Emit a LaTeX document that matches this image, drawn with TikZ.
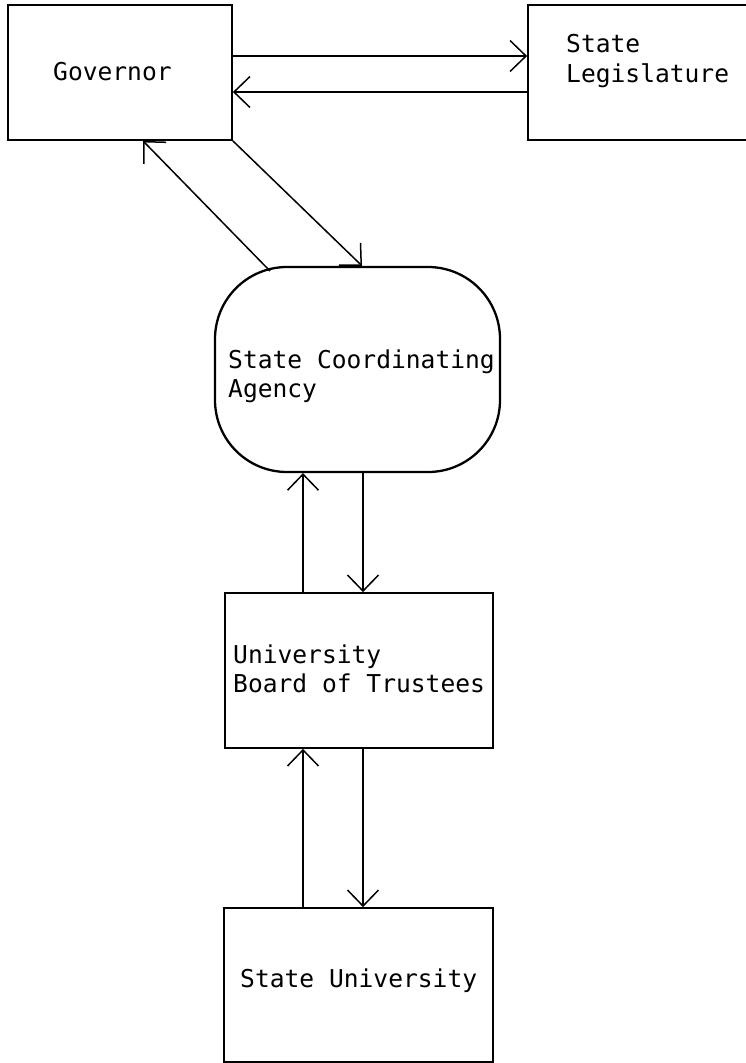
\documentclass[tikz,border=0pt]{standalone}
\usepackage{fontspec}
\setmonofont{DejaVu Sans Mono}
\usetikzlibrary{arrows.meta}
\begin{document}
\begin{tikzpicture}[x=1pt,y=-1pt,
  box/.style={draw,line width=1.8pt,inner sep=0pt},
  lbl/.style={font=\ttfamily\fontsize{24.6}{29.5}\selectfont,align=left,inner sep=0pt,anchor=north west},
  arr/.style={line width=1.5pt,-{Straight Barb[length=16pt,width=31pt,line width=1.5pt]}}]
\useasboundingbox (0,0) rectangle (746,1063);
% boxes
\node[box,minimum width=224pt,minimum height=135pt] (gov) at (120,72.5) {};
\node[box,minimum width=242pt,minimum height=135pt] (leg) at (649,72.5) {};
\node[box,line width=2.3pt,minimum width=285pt,minimum height=205pt,rounded corners=72pt] (agency) at (357.5,369.5) {};
\node[box,minimum width=268pt,minimum height=155pt] (board) at (359,670.5) {};
\node[box,minimum width=269pt,minimum height=154pt] (univ) at (358.5,985) {};
% labels
\node[lbl] (govtxt) at (53,62.5) {Governor};
\node[lbl] (legtxt) at (566,34.5) {State\\Legislature};
\node[lbl] (agtxt) at (228,349.5) {State Coordinating\\Agency};
\node[lbl] (bdtxt) at (233,644.5) {University\\Board of Trustees};
\node[lbl] (untxt) at (240,968.5) {State University};
% helper coordinates
\coordinate (ya) at (0,56);
\coordinate (yb) at (0,92);
\coordinate (xg) at (143,0);
\coordinate (xa) at (362,0);
\coordinate (agl) at (270,271);
\coordinate (xu) at (303,0);
\coordinate (xd) at (363,0);
% connectors
\draw[arr] (gov.east |- ya) -- (leg.west |- ya);
\draw[arr] (leg.west |- yb) -- (gov.east |- yb);
\draw[arr] (agl) -- (gov.south -| xg);
\draw[arr] (gov.south east) -- (agency.north -| xa);
\draw[arr] (board.north -| xu) -- (agency.south -| xu);
\draw[arr] (agency.south -| xd) -- (board.north -| xd);
\draw[arr] (univ.north -| xu) -- (board.south -| xu);
\draw[arr] (board.south -| xd) -- (univ.north -| xd);
\end{tikzpicture}
\end{document}
